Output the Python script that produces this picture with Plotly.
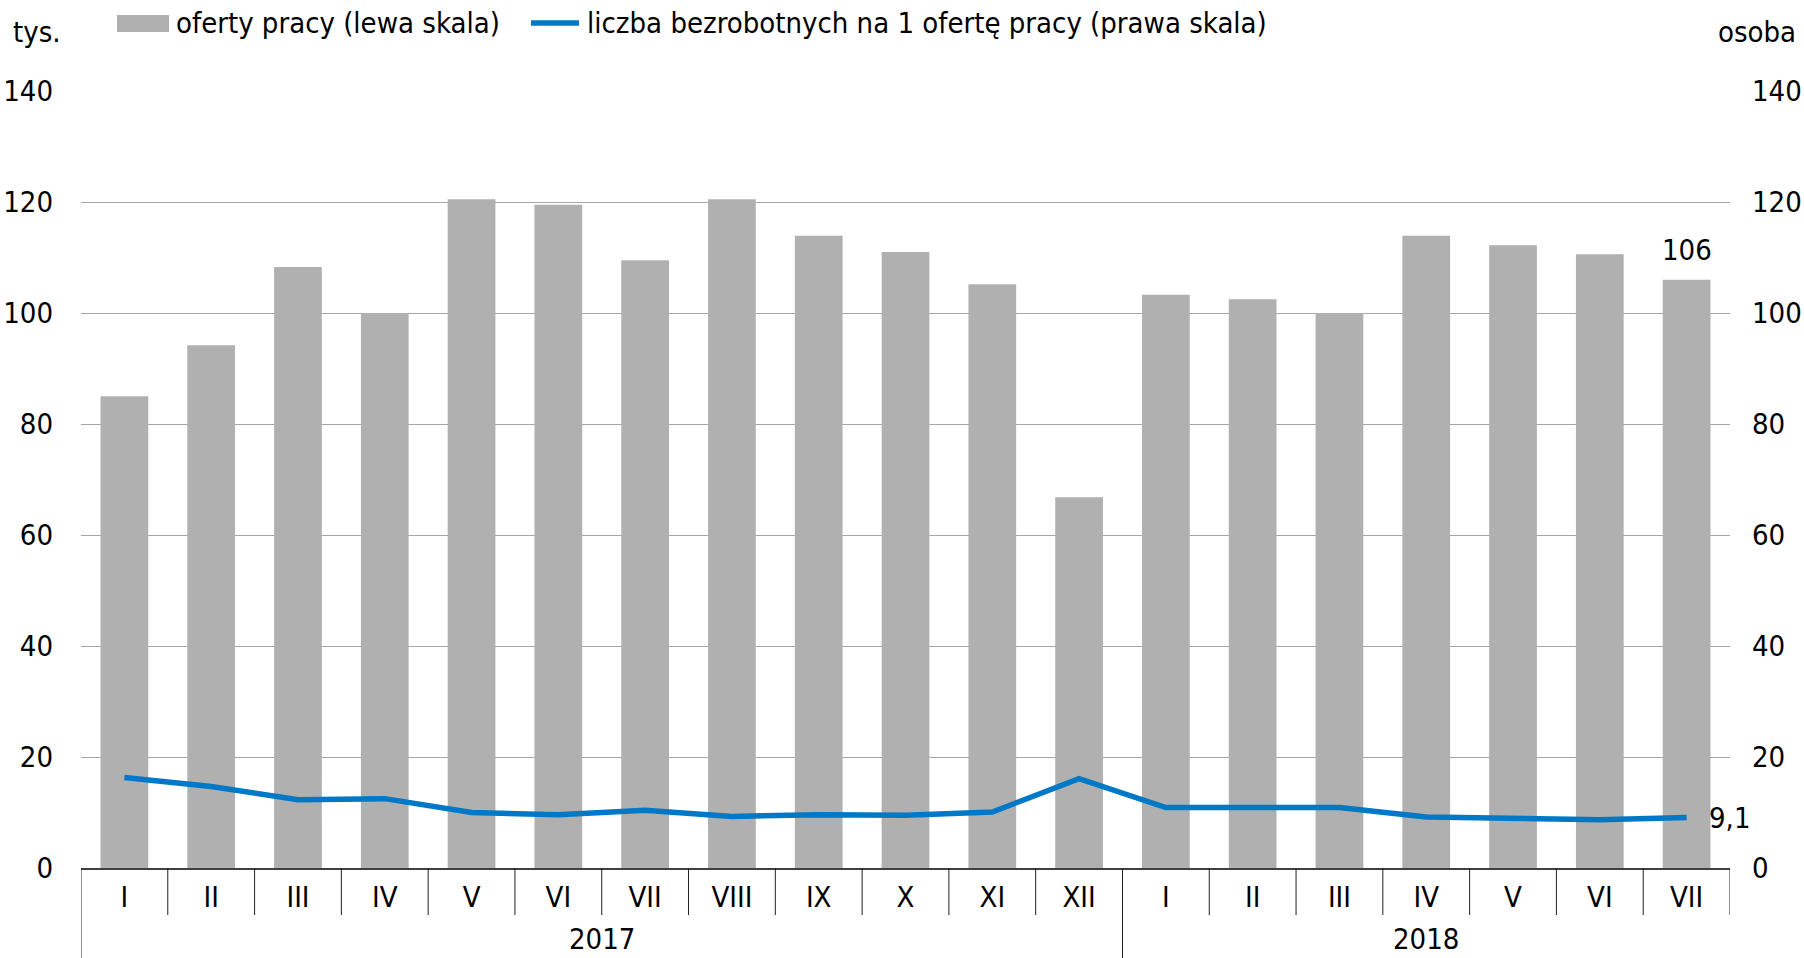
import plotly.graph_objects as go

months = ["I", "II", "III", "IV", "V", "VI", "VII", "VIII", "IX", "X", "XI", "XII",
          "I", "II", "III", "IV", "V", "VI", "VII"]
years = ["2017", "2018"]
year_counts = [12, 7]
offers = [85.0, 94.2, 108.3, 100.0, 120.5, 119.5, 109.5, 120.5, 113.9, 111.0, 105.2, 66.8,
          103.3, 102.5, 100.0, 113.9, 112.2, 110.6, 106.0]
unemployed_per_offer = [16.3, 14.7, 12.3, 12.5, 10.0, 9.6, 10.4, 9.3, 9.6, 9.5, 10.1, 16.1,
                        10.9, 10.9, 10.9, 9.2, 8.9, 8.7, 9.1]
y_ticks = [0, 20, 40, 60, 80, 100, 120, 140]

FONT = "DejaVu Sans Condensed, Roboto, sans-serif"
FS = 29
BAR_COLOR = "#b0b0b0"
LINE_COLOR = "#0078c8"

W, H = 1804, 958
ML, MR, MT, MB = 81, 74, 91, 90
PW = W - ML - MR
PH = H - MT - MB

def px_to_paper_x(X):
    return (X - ML) / PW

def px_to_paper_y(Y):
    return (H - MB - Y) / PH

idx = list(range(len(months)))

fig = go.Figure()
fig.add_trace(go.Bar(x=idx, y=offers, marker=dict(color=BAR_COLOR, line=dict(width=0)),
                     name="oferty pracy (lewa skala)", showlegend=False))
fig.add_trace(go.Scatter(x=idx, y=unemployed_per_offer, mode="lines", yaxis="y2",
                         line=dict(color=LINE_COLOR, width=5.5),
                         name="liczba bezrobotnych na 1 ofertę pracy (prawa skala)", showlegend=False))

shapes = []
annotations = []

# category separators
bottom_month = px_to_paper_y(915)
bottom_year = px_to_paper_y(H)
year_bounds = []
acc = 0
for c in year_counts:
    year_bounds.append(acc)
    acc += c
for i in range(len(months) + 1):
    xb = i - 0.5
    y0 = bottom_year if i in year_bounds else bottom_month
    shapes.append(dict(type="line", xref="x", yref="paper", x0=xb, x1=xb, y0=0, y1=y0,
                       line=dict(color="#202020", width=1)))

# year labels
start = 0
for yr, c in zip(years, year_counts):
    annotations.append(dict(x=start + (c - 1) / 2, y=px_to_paper_y(939), xref="x", yref="paper",
                            text=yr, showarrow=False, font=dict(family=FONT, size=FS, color="#000"),
                            xanchor="center", yanchor="middle"))
    start += c

# data labels
annotations.append(dict(x=idx[-1], y=offers[-1], xref="x", yref="y", text=f"{offers[-1]:.0f}",
                        showarrow=False, yshift=30, font=dict(family=FONT, size=FS, color="#000"),
                        xanchor="center", yanchor="middle"))
annotations.append(dict(x=idx[-1], y=unemployed_per_offer[-1], xref="x", yref="y2",
                        text=f"{unemployed_per_offer[-1]:.1f}".replace(".", ","),
                        showarrow=False, xshift=20, font=dict(family=FONT, size=FS, color="#000"),
                        xanchor="left", yanchor="middle"))

# axis unit labels
annotations.append(dict(x=px_to_paper_x(37), y=px_to_paper_y(32), xref="paper", yref="paper",
                        text="tys.", showarrow=False, font=dict(family=FONT, size=FS, color="#000"),
                        xanchor="center", yanchor="middle"))
annotations.append(dict(x=px_to_paper_x(1757), y=px_to_paper_y(32), xref="paper", yref="paper",
                        text="osoba", showarrow=False, font=dict(family=FONT, size=FS, color="#000"),
                        xanchor="center", yanchor="middle"))

# legend (manual)
shapes.append(dict(type="rect", xref="paper", yref="paper",
                   x0=px_to_paper_x(117), x1=px_to_paper_x(169),
                   y0=px_to_paper_y(32), y1=px_to_paper_y(15),
                   fillcolor=BAR_COLOR, line=dict(width=0)))
shapes.append(dict(type="line", xref="paper", yref="paper",
                   x0=px_to_paper_x(531), x1=px_to_paper_x(579),
                   y0=px_to_paper_y(23), y1=px_to_paper_y(23),
                   line=dict(color=LINE_COLOR, width=5.5)))
annotations.append(dict(x=px_to_paper_x(174), y=px_to_paper_y(23), xref="paper", yref="paper",
                        text="oferty pracy (lewa skala)", showarrow=False,
                        font=dict(family=FONT, size=FS, color="#000"), xanchor="left", yanchor="middle"))
annotations.append(dict(x=px_to_paper_x(585), y=px_to_paper_y(23), xref="paper", yref="paper",
                        text="liczba bezrobotnych na 1 ofertę pracy (prawa skala)", showarrow=False,
                        font=dict(family=FONT, size=FS, color="#000"), xanchor="left", yanchor="middle"))

fig.update_layout(
    width=W, height=H,
    margin=dict(l=ML, r=MR, t=MT, b=MB, pad=0, autoexpand=False),
    paper_bgcolor="white", plot_bgcolor="white",
    bargap=0.45,
    showlegend=False,
    font=dict(family=FONT, size=FS, color="#000"),
    xaxis=dict(range=[-0.5, len(months) - 0.5], tickmode="array", tickvals=idx, ticktext=months,
               showgrid=False, zeroline=False, showline=True, linecolor="#404040", linewidth=1.5,
               ticks="", ticklabelstandoff=2, automargin=False,
               tickfont=dict(family=FONT, size=FS, color="#000")),
    yaxis=dict(range=[0, 140], tickmode="array", tickvals=y_ticks, showgrid=True,
               gridcolor="#a6a6a6", gridwidth=1.2, zeroline=False, showline=False, ticks="",
               ticklabelstandoff=27, automargin=False, tickfont=dict(family=FONT, size=FS, color="#000")),
    yaxis2=dict(range=[0, 140], tickmode="array", tickvals=y_ticks, overlaying="y", side="right",
                showgrid=False, zeroline=False, showline=False, ticks="",
                ticklabelstandoff=21, automargin=False, tickfont=dict(family=FONT, size=FS, color="#000")),
    shapes=shapes,
    annotations=annotations,
)

fig.write_html("out.html", config={"displayModeBar": False},
               post_script="document.body.style.margin='0';document.body.style.overflow='hidden';")
